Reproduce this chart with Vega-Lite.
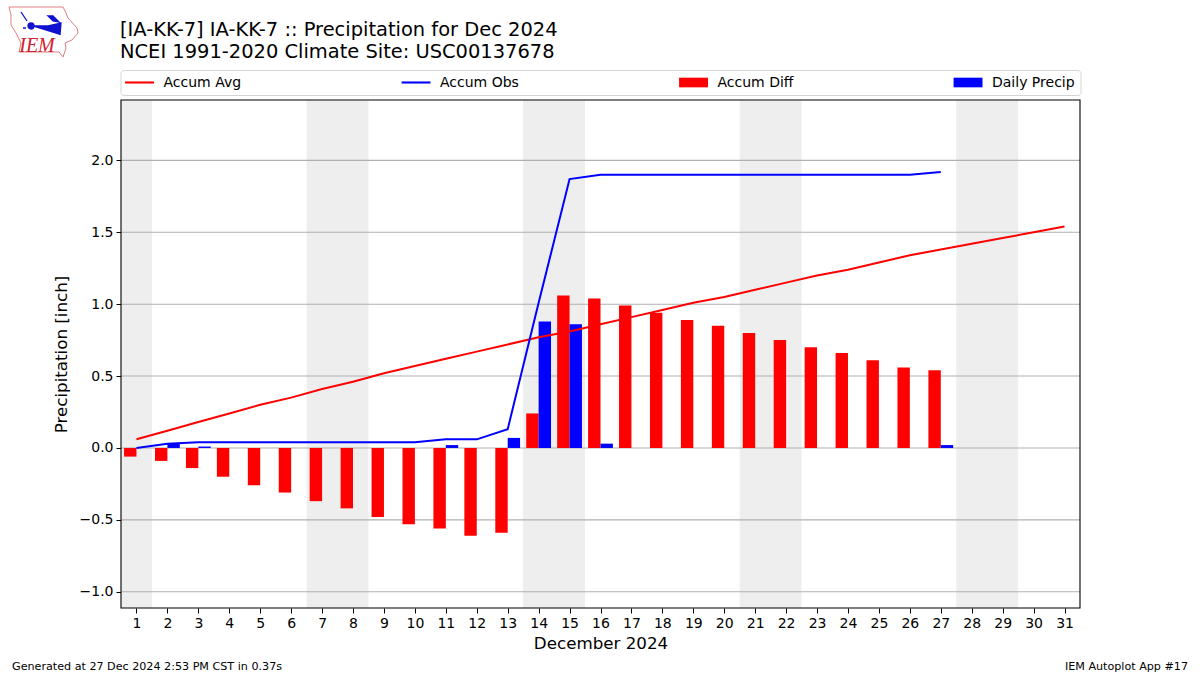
{
"$schema":"https://vega.github.io/schema/vega-lite/v6.json",
"width":959,"height":508,
"autosize":{"type":"none"},
"padding":{"left":121,"top":100,"right":120,"bottom":67},
"background":"white",
"config":{"font":"DejaVu Sans","view":{"stroke":null},"scale":{"continuousPadding":0},
"axisX":{"title":"December 2024","titleFontSize":16.7,"titleFontWeight":"normal","titleColor":"black","titlePadding":5,"labelFontSize":14,"labelColor":"black","labelPadding":3,"labelFlush":false,"labelOverlap":false,"tickColor":"black","tickSize":5,"domain":false,"grid":false},
"axisY":{"titleFontSize":16.7,"titleFontWeight":"normal","titleColor":"black","titlePadding":9,"labelFontSize":14,"labelColor":"black","labelPadding":3,"labelOverlap":false,"tickColor":"black","tickSize":5,"domain":false,"grid":false}},
"title":{"text":["[IA-KK-7] IA-KK-7 :: Precipitation for Dec 2024","NCEI 1991-2020 Climate Site: USC00137678"],"anchor":"start","frame":"group","fontSize":19.45,"fontWeight":"normal","color":"black","lineHeight":21.5,"offset":-57,"font":"DejaVu Sans","dx":-1},
"datasets":{
"weekends":[{"start":0.5,"end":1.5},{"start":6.5,"end":8.5},{"start":13.5,"end":15.5},{"start":20.5,"end":22.5},{"start":27.5,"end":29.5}],
"frame":[{"start":0.5,"end":31.5}],
"grid":[{"v":-1.0},{"v":-0.5},{"v":0},{"v":0.5},{"v":1.0},{"v":1.5},{"v":2.0}],
"bars":[
{"day":1,"series":"Accum Diff","inch":-0.06},{"day":2,"series":"Accum Diff","inch":-0.09},{"day":3,"series":"Accum Diff","inch":-0.14},{"day":4,"series":"Accum Diff","inch":-0.20},{"day":5,"series":"Accum Diff","inch":-0.26},{"day":6,"series":"Accum Diff","inch":-0.31},{"day":7,"series":"Accum Diff","inch":-0.37},{"day":8,"series":"Accum Diff","inch":-0.42},{"day":9,"series":"Accum Diff","inch":-0.48},{"day":10,"series":"Accum Diff","inch":-0.53},{"day":11,"series":"Accum Diff","inch":-0.56},{"day":12,"series":"Accum Diff","inch":-0.61},{"day":13,"series":"Accum Diff","inch":-0.59},{"day":14,"series":"Accum Diff","inch":0.24},{"day":15,"series":"Accum Diff","inch":1.06},{"day":16,"series":"Accum Diff","inch":1.04},{"day":17,"series":"Accum Diff","inch":0.99},{"day":18,"series":"Accum Diff","inch":0.94},{"day":19,"series":"Accum Diff","inch":0.89},{"day":20,"series":"Accum Diff","inch":0.85},{"day":21,"series":"Accum Diff","inch":0.80},{"day":22,"series":"Accum Diff","inch":0.75},{"day":23,"series":"Accum Diff","inch":0.70},{"day":24,"series":"Accum Diff","inch":0.66},{"day":25,"series":"Accum Diff","inch":0.61},{"day":26,"series":"Accum Diff","inch":0.56},{"day":27,"series":"Accum Diff","inch":0.54},
{"day":2,"series":"Daily Precip","inch":0.03},{"day":3,"series":"Daily Precip","inch":0.01},{"day":11,"series":"Daily Precip","inch":0.02},{"day":13,"series":"Daily Precip","inch":0.07},{"day":14,"series":"Daily Precip","inch":0.88},{"day":15,"series":"Daily Precip","inch":0.86},{"day":16,"series":"Daily Precip","inch":0.03},{"day":27,"series":"Daily Precip","inch":0.02}],
"lines":[
{"day":1,"series":"Accum Avg","inch":0.06},{"day":2,"series":"Accum Avg","inch":0.12},{"day":3,"series":"Accum Avg","inch":0.18},{"day":4,"series":"Accum Avg","inch":0.24},{"day":5,"series":"Accum Avg","inch":0.30},{"day":6,"series":"Accum Avg","inch":0.35},{"day":7,"series":"Accum Avg","inch":0.41},{"day":8,"series":"Accum Avg","inch":0.46},{"day":9,"series":"Accum Avg","inch":0.52},{"day":10,"series":"Accum Avg","inch":0.57},{"day":11,"series":"Accum Avg","inch":0.62},{"day":12,"series":"Accum Avg","inch":0.67},{"day":13,"series":"Accum Avg","inch":0.72},{"day":14,"series":"Accum Avg","inch":0.77},{"day":15,"series":"Accum Avg","inch":0.81},{"day":16,"series":"Accum Avg","inch":0.86},{"day":17,"series":"Accum Avg","inch":0.91},{"day":18,"series":"Accum Avg","inch":0.96},{"day":19,"series":"Accum Avg","inch":1.01},{"day":20,"series":"Accum Avg","inch":1.05},{"day":21,"series":"Accum Avg","inch":1.10},{"day":22,"series":"Accum Avg","inch":1.15},{"day":23,"series":"Accum Avg","inch":1.20},{"day":24,"series":"Accum Avg","inch":1.24},{"day":25,"series":"Accum Avg","inch":1.29},{"day":26,"series":"Accum Avg","inch":1.34},{"day":27,"series":"Accum Avg","inch":1.38},{"day":28,"series":"Accum Avg","inch":1.42},{"day":29,"series":"Accum Avg","inch":1.46},{"day":30,"series":"Accum Avg","inch":1.50},{"day":31,"series":"Accum Avg","inch":1.54},
{"day":1,"series":"Accum Obs","inch":0.0},{"day":2,"series":"Accum Obs","inch":0.03},{"day":3,"series":"Accum Obs","inch":0.04},{"day":4,"series":"Accum Obs","inch":0.04},{"day":5,"series":"Accum Obs","inch":0.04},{"day":6,"series":"Accum Obs","inch":0.04},{"day":7,"series":"Accum Obs","inch":0.04},{"day":8,"series":"Accum Obs","inch":0.04},{"day":9,"series":"Accum Obs","inch":0.04},{"day":10,"series":"Accum Obs","inch":0.04},{"day":11,"series":"Accum Obs","inch":0.06},{"day":12,"series":"Accum Obs","inch":0.06},{"day":13,"series":"Accum Obs","inch":0.13},{"day":14,"series":"Accum Obs","inch":1.01},{"day":15,"series":"Accum Obs","inch":1.87},{"day":16,"series":"Accum Obs","inch":1.90},{"day":17,"series":"Accum Obs","inch":1.90},{"day":18,"series":"Accum Obs","inch":1.90},{"day":19,"series":"Accum Obs","inch":1.90},{"day":20,"series":"Accum Obs","inch":1.90},{"day":21,"series":"Accum Obs","inch":1.90},{"day":22,"series":"Accum Obs","inch":1.90},{"day":23,"series":"Accum Obs","inch":1.90},{"day":24,"series":"Accum Obs","inch":1.90},{"day":25,"series":"Accum Obs","inch":1.90},{"day":26,"series":"Accum Obs","inch":1.90},{"day":27,"series":"Accum Obs","inch":1.92}],
"legendKeys":[{"series":"Accum Avg"},{"series":"Accum Obs"},{"series":"Accum Diff"},{"series":"Daily Precip"}]
},
"layer":[
{"data":{"name":"weekends"},"mark":{"type":"rect","color":"#eeeeee"},
"encoding":{"x":{"field":"start","type":"quantitative","title":"December 2024","scale":{"domain":[0.5,31.5],"nice":false,"zero":false},
"axis":{"values":[1,2,3,4,5,6,7,8,9,10,11,12,13,14,15,16,17,18,19,20,21,22,23,24,25,26,27,28,29,30,31],"format":"d"}},
"x2":{"field":"end"}}},
{"data":{"name":"grid"},"mark":{"type":"rule","color":"#b0b0b0","strokeWidth":1.1},
"encoding":{"y":{"field":"v","type":"quantitative","title":"Precipitation [inch]","scale":{"domain":[-1.113,2.42],"nice":false,"zero":false},
"axis":{"values":[-1,-0.5,0,0.5,1,1.5,2],"labelExpr":"replace(format(datum.value,'.1f'),'-','−')"}}}},
{"data":{"name":"bars"},"transform":[{"filter":"datum.series==='Accum Diff'"}],"mark":{"type":"bar","size":12.4,"xOffset":-6.2,"color":"#ff0000","clip":true},
"encoding":{"x":{"field":"day","type":"quantitative","title":"December 2024","axis":{"values":[1,2,3,4,5,6,7,8,9,10,11,12,13,14,15,16,17,18,19,20,21,22,23,24,25,26,27,28,29,30,31],"format":"d"}},"y":{"field":"inch","type":"quantitative","stack":null,"title":"Precipitation [inch]","axis":{"values":[-1,-0.5,0,0.5,1,1.5,2],"labelExpr":"replace(format(datum.value,'.1f'),'-','−')"}}}},
{"data":{"name":"bars"},"transform":[{"filter":"datum.series==='Daily Precip'"}],"mark":{"type":"bar","size":12.4,"xOffset":6.2,"color":"#0000ff","clip":true},
"encoding":{"x":{"field":"day","type":"quantitative","title":"December 2024","axis":{"values":[1,2,3,4,5,6,7,8,9,10,11,12,13,14,15,16,17,18,19,20,21,22,23,24,25,26,27,28,29,30,31],"format":"d"}},"y":{"field":"inch","type":"quantitative","stack":null,"title":"Precipitation [inch]","axis":{"values":[-1,-0.5,0,0.5,1,1.5,2],"labelExpr":"replace(format(datum.value,'.1f'),'-','−')"}}}},
{"data":{"name":"lines"},"transform":[{"filter":"datum.series==='Accum Avg'"}],"mark":{"type":"line","strokeWidth":2,"color":"#ff0000"},
"encoding":{"x":{"field":"day","type":"quantitative","title":"December 2024","axis":{"values":[1,2,3,4,5,6,7,8,9,10,11,12,13,14,15,16,17,18,19,20,21,22,23,24,25,26,27,28,29,30,31],"format":"d"}},"y":{"field":"inch","type":"quantitative","title":"Precipitation [inch]","axis":{"values":[-1,-0.5,0,0.5,1,1.5,2],"labelExpr":"replace(format(datum.value,'.1f'),'-','−')"}}}},
{"data":{"name":"lines"},"transform":[{"filter":"datum.series==='Accum Obs'"}],"mark":{"type":"line","strokeWidth":2,"color":"#0000ff"},
"encoding":{"x":{"field":"day","type":"quantitative","title":"December 2024","axis":{"values":[1,2,3,4,5,6,7,8,9,10,11,12,13,14,15,16,17,18,19,20,21,22,23,24,25,26,27,28,29,30,31],"format":"d"}},"y":{"field":"inch","type":"quantitative","title":"Precipitation [inch]","axis":{"values":[-1,-0.5,0,0.5,1,1.5,2],"labelExpr":"replace(format(datum.value,'.1f'),'-','−')"}}}},
{"data":{"name":"frame"},"mark":{"type":"rect","fill":null,"stroke":"black","strokeWidth":1.1},
"encoding":{"x":{"field":"start","type":"quantitative","title":"December 2024","axis":{"values":[1,2,3,4,5,6,7,8,9,10,11,12,13,14,15,16,17,18,19,20,21,22,23,24,25,26,27,28,29,30,31],"format":"d"}},"x2":{"field":"end"}}},
{"data":{"name":"legendKeys"},"mark":{"type":"point","filled":true,"size":0,"opacity":1},
"encoding":{
"color":{"field":"series","type":"nominal","scale":{"domain":["Accum Avg","Accum Obs","Accum Diff","Daily Precip"],"range":["#ff0000","#0000ff","#ff0000","#0000ff"]},"legend":{"title":null,"orient":"none","legendX":-0.5,"legendY":-30,"columns":4,"columnPadding":159.5,"symbolSize":196,"symbolStrokeWidth":0,"labelFontSize":14,"labelColor":"black","labelOffset":23.5,"fillColor":"white","strokeColor":"#d5d5d5","cornerRadius":3,"padding":5.5,"labelLimit":200,"encode":{"symbols":{"update":{"opacity":{"value":1},"fillOpacity":{"value":1}}}}}},
"shape":{"field":"series","type":"nominal","scale":{"domain":["Accum Avg","Accum Obs","Accum Diff","Daily Precip"],"range":["M-1.13,-0.15H3.0V0.15H-1.13Z","M-1.13,-0.15H3.0V0.15H-1.13Z","M-1.13,-0.69H3.0V0.69H-1.13Z","M-1.13,-0.69H3.0V0.69H-1.13Z"]},"legend":{"title":null}}}},
{"data":{"values":[{"part":"logo"}]},"mark":{"type":"point","clip":false,"filled":false,"size":4,"stroke":"#e08080","strokeWidth":1,"opacity":1,"shape":"M-34,-23L20,-23L23,-17L25,-12L34,-2L35,3L29,10L22,13L23,18L20,27L16,22L-24,22L-22,13L-27,3L-32,-5L-32,-15Z"},
"encoding":{"x":{"value":-78},"y":{"value":-70}}},
{"data":{"values":[{"part":"logo"}]},"mark":{"type":"point","clip":false,"filled":true,"size":4,"fill":"#1010d0","stroke":"#1010d0","strokeWidth":1.3,"opacity":1,"shape":"M-12,-4L5,-4L18,-7L17,5M5,-14L10,-14L16,-8L10,-9ZM-22,-18L-16,-9M-12,-7A3,3 0 1 0 -12,-1A3,3 0 1 0 -12,-7ZM-20,-2L-17,-2M15,1L18,2"},
"encoding":{"x":{"value":-78},"y":{"value":-70}}},
{"data":{"values":[{"label":"IEM"}]},"mark":{"type":"text","clip":false,"font":"Liberation Serif","fontStyle":"italic","fontSize":20,"color":"#d02030","align":"center","baseline":"middle"},
"encoding":{"x":{"value":-84},"y":{"value":-54},"text":{"field":"label"}}},
{"data":{"values":[{"label":"Generated at 27 Dec 2024 2:53 PM CST in 0.37s"}]},"mark":{"type":"text","clip":false,"fontSize":11.15,"color":"black","align":"left","baseline":"middle"},
"encoding":{"x":{"value":-109},"y":{"value":567},"text":{"field":"label"}}},
{"data":{"values":[{"label":"IEM Autoplot App #17"}]},"mark":{"type":"text","clip":false,"fontSize":11.15,"color":"black","align":"right","baseline":"middle"},
"encoding":{"x":{"value":1067},"y":{"value":567},"text":{"field":"label"}}}
]
}
